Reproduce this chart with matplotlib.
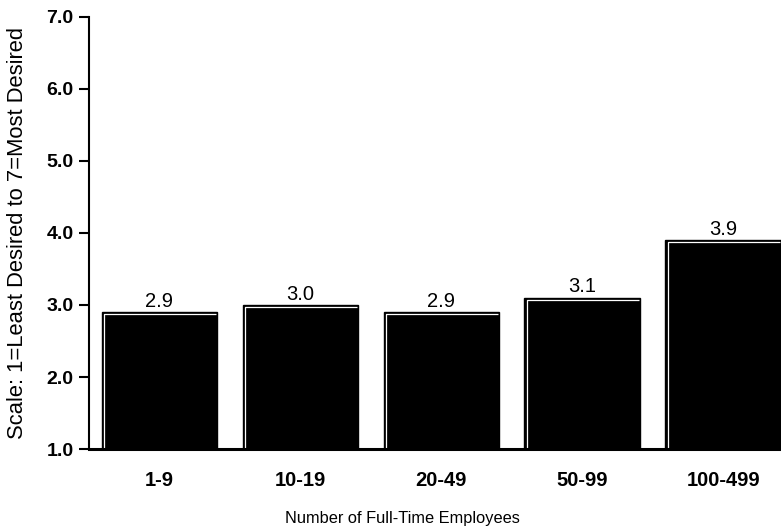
import matplotlib
matplotlib.use("Agg")
import matplotlib.pyplot as plt
from matplotlib.transforms import offset_copy

categories = ["1-9", "10-19", "20-49", "50-99", "100-499"]
values = [2.9, 3.0, 2.9, 3.1, 3.9]
value_labels = ["2.9", "3.0", "2.9", "3.1", "3.9"]
yticks = [1.0, 2.0, 3.0, 4.0, 5.0, 6.0, 7.0]
ytick_labels = ["1.0", "2.0", "3.0", "4.0", "5.0", "6.0", "7.0"]

plt.rcParams['font.family'] = ['Liberation Sans', 'DejaVu Sans']

fig = plt.figure(figsize=(7.81, 5.31), dpi=100)
ax = fig.add_axes([89/781, 82/531, 692/781, 432/531])

x = list(range(len(categories)))
width = 0.82
base = 1.0
ax.bar(x, [v - base for v in values], bottom=base, width=width,
       color='black', edgecolor='black', linewidth=1.0, zorder=2)

inner = offset_copy(ax.transData, fig=fig, x=2.2, y=-2.2, units='dots')
for xi, v in zip(x, values):
    x0 = xi - width / 2
    x1 = xi + width / 2
    ax.plot([x0, x0, x1 - 0.025], [base, v, v], color='white', lw=0.9,
            transform=inner, zorder=3, solid_capstyle='butt')

for xi, v, lab in zip(x, values, value_labels):
    ax.annotate(lab, (xi, v), xytext=(0, 1), textcoords='offset points',
                ha='center', va='bottom', fontsize=14.5)

ax.set_xlim(-0.5, 4.41)
ax.set_ylim(1.0, 7.0)
ax.set_yticks(yticks)
ax.set_yticklabels(ytick_labels, fontsize=14, fontweight='bold')
ax.set_xticks(x)
ax.set_xticklabels(categories, fontsize=14.5, fontweight='bold')
ax.tick_params(axis='x', length=0, pad=16)
ax.tick_params(axis='y', length=7, width=1.5, pad=4)

for s in ['top', 'right']:
    ax.spines[s].set_visible(False)
ax.spines['left'].set_linewidth(1.5)
ax.spines['bottom'].set_linewidth(2.2)
ax.spines['bottom'].set_zorder(4)

fig.text(18/781, 1 - 233/531, "Scale: 1=Least Desired to 7=Most Desired",
         rotation=90, ha='center', va='center', fontsize=15.8)
fig.text(402/781, 1 - 519/531, "Number of Full-Time Employees",
         ha='center', va='center', fontsize=11.8)

fig.savefig("out.png", dpi=100)
